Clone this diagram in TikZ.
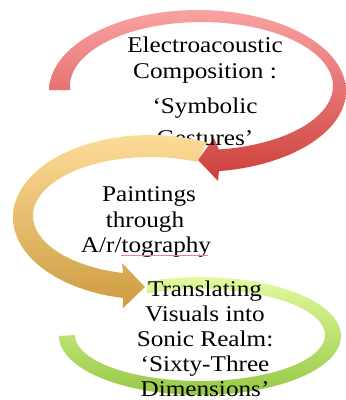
\documentclass[tikz,border=0pt]{standalone}
\usepackage{fontspec}
\setmainfont{Liberation Serif}[FakeStretch=1.12]
\definecolor{redtop}{RGB}{250,162,162}
\definecolor{redbot}{RGB}{205,62,58}
\definecolor{orangetop}{RGB}{253,220,152}
\definecolor{orangebot}{RGB}{206,156,66}
\definecolor{greentop}{RGB}{226,250,158}
\definecolor{greenbot}{RGB}{150,200,70}
\definecolor{spell}{RGB}{235,130,140}
\tikzset{
  lbl/.style={anchor=base, inner sep=0pt, text=black, font=\fontsize{22.5}{25}\selectfont},
}
\begin{document}
\begin{tikzpicture}[x=1pt,y=-1pt]
\useasboundingbox (0,0) rectangle (346,400);
% red arrow
\shade[top color=redtop, bottom color=redbot]
  plot[domain=180.7:441.7, samples=90] ({197.5+148.5*cos(\x)},{91+81*sin(\x)})
  -- (218,181) -- (198,160) -- (214,138)
  -- plot[domain=442.4:176.4, samples=90] ({201.5+131.5*cos(\x)},{86+64*sin(\x)}) -- cycle;
\node[lbl] (r1) at (205,52) {Electroacoustic};
\node[lbl] (r2) at (205,78) {Composition :};
\node[lbl] (r3) at (205,113) {‘Symbolic};
\node[lbl] (r4) at (205,145) {Gestures’};
% orange arrow
\shade[top color=orangetop, bottom color=orangebot]
  plot[domain=294.6:101.4, samples=90] ({150+137*cos(\x)},{217.3+82.3*sin(\x)})
  -- (123,308) -- (145,287) -- (122,263)
  -- plot[domain=103.3:293.7, samples=90] ({150+117*cos(\x)},{215.8+58.8*sin(\x)}) -- cycle;
\node[lbl] (o1) at (149,201) {Paintings};
\node[lbl] (o2) at (145,227) {through};
\node[lbl] (o3) at (146,252) {A/r/tography};
\draw[spell, line width=0.6pt] (121,255.5) -- (208,255.5);
% green arrow
\shade[top color=greentop, bottom color=greenbot]
  plot[domain=180:-112, samples=100] ({200+141*cos(\x)},{336+59*sin(\x)})
  -- plot[domain=-115.1:180, samples=100] ({200+125*cos(\x)},{335+46*sin(\x)}) -- cycle;
\node[lbl] (g1) at (205,296) {Translating};
\node[lbl] (g2) at (205,321) {Visuals into};
\node[lbl] (g3) at (205,346) {Sonic Realm:};
\node[lbl] (g4) at (205,371) {‘Sixty-Three};
\node[lbl] (g5) at (205,396) {Dimensions’};
\end{tikzpicture}
\end{document}
